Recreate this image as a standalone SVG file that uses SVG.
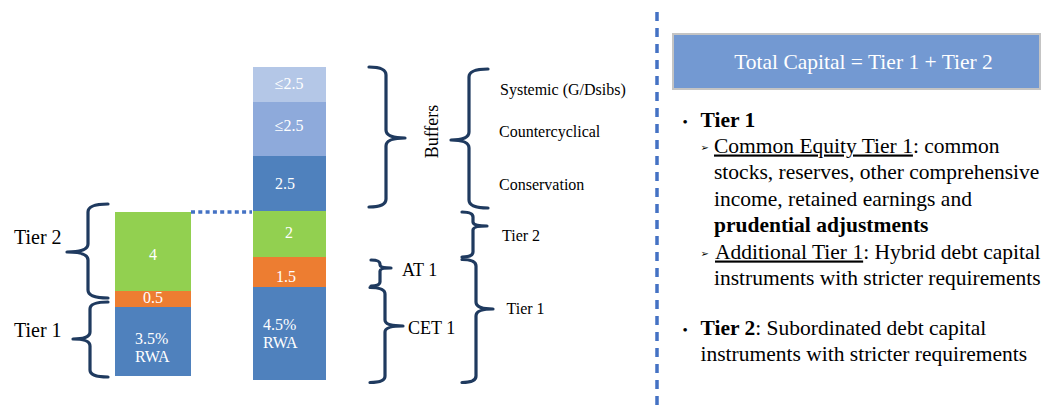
<svg xmlns="http://www.w3.org/2000/svg" width="1041" height="408" viewBox="0 0 1041 408">
<style>
.lbl{font-family:"Liberation Serif",serif;fill:#ffffff;font-size:16px}
.blk{font-family:"Liberation Serif",serif;fill:#000000}
.brace{fill:none;stroke:#1f3a5f;stroke-width:3.2;stroke-linecap:round;stroke-linejoin:round}
.rt{font-family:"Liberation Serif",serif;font-size:21.5px;fill:#000}
.bul{font-family:"Liberation Serif",serif;font-size:15px;fill:#000}
.arr{font-family:"DejaVu Sans",sans-serif;font-size:10px;fill:#000}
</style>
<rect width="1041" height="408" fill="#ffffff"/>

<g id="connectors">
<line x1="191" y1="212" x2="252" y2="212" stroke="#4472c4" stroke-width="3.4" stroke-dasharray="4 3.3"/>
<line x1="657" y1="12" x2="657" y2="408" stroke="#4472c4" stroke-width="3.5" stroke-dasharray="9 7"/>
</g>

<g id="bar-left">
<rect x="115" y="212" width="76" height="79" fill="#92d050"/>
<rect x="115" y="291" width="76" height="16" fill="#ed7d31"/>
<rect x="115" y="307" width="76" height="69" fill="#4f81bd"/>
<text class="lbl" x="153" y="259.5" text-anchor="middle">4</text>
<text class="lbl" x="153" y="303" text-anchor="middle">0.5</text>
<text class="lbl" x="135" y="344">3.5%</text>
<text class="lbl" x="135" y="362">RWA</text>
</g>

<g id="bar-right">
<rect x="253" y="67" width="73" height="35" fill="#b4c7e7"/>
<rect x="253" y="102" width="73" height="54" fill="#8eaadb"/>
<rect x="253" y="156" width="73" height="55" fill="#4f81bd"/>
<rect x="253" y="211" width="73" height="46" fill="#92d050"/>
<rect x="253" y="257" width="73" height="30" fill="#ed7d31"/>
<rect x="253" y="287" width="73" height="93" fill="#4f81bd"/>
<text class="lbl" x="289" y="88.5" text-anchor="middle">≤2.5</text>
<text class="lbl" x="289" y="131" text-anchor="middle">≤2.5</text>
<text class="lbl" x="275" y="188.5">2.5</text>
<text class="lbl" x="289" y="237.5" text-anchor="middle">2</text>
<text class="lbl" x="286" y="282" text-anchor="middle">1.5</text>
<text class="lbl" x="263" y="330">4.5%</text>
<text class="lbl" x="263" y="347.5">RWA</text>
</g>

<g id="brace-left-tier2">
<path class="brace" d="M108,204 Q88,204 88,212 L88,244 Q88,252 67,252 Q88,252 88,260 L88,290 Q88,298 108,298"/>
<text class="blk" x="14" y="244" font-size="20">Tier 2</text>
</g>
<g id="brace-left-tier1">
<path class="brace" d="M108,302 Q90,302 90,309 L90,332 Q90,339 73,339 Q90,339 90,346 L90,370 Q90,377 108,377"/>
<text class="blk" x="14" y="337" font-size="20">Tier 1</text>
</g>

<g id="brace-buffers">
<path class="brace" d="M369,67 Q386,67 386,75 L386,130 Q386,138 405,138 Q386,138 386,146 L386,199 Q386,207 369,207"/>
<text class="blk" font-size="18" text-anchor="middle" transform="translate(438,131.5) rotate(-90)">Buffers</text>
</g>

<g id="brace-buffer-types">
<path class="brace" d="M488,69 Q469,69 469,77 L469,132 Q469,140 451,140 Q469,140 469,148 L469,200 Q469,208 488,208"/>
<text class="blk" x="500" y="95" font-size="16">Systemic (G/Dsibs)</text>
<text class="blk" x="499" y="136.5" font-size="16">Countercyclical</text>
<text class="blk" x="499" y="190" font-size="16">Conservation</text>
</g>

<g id="brace-at1">
<path class="brace" d="M371,260 Q380,260 380,264 L380,265 Q380,268 391,268 Q380,268 380,271 L380,282 Q380,286 371,286"/>
<text class="blk" x="402" y="276" font-size="18">AT 1</text>
</g>
<g id="brace-cet1">
<path class="brace" d="M370,287.5 Q385,287.5 385,294 L385,320 Q385,326 403,326 Q385,326 385,332 L385,376 Q385,382.5 370,382.5"/>
<text class="blk" x="408" y="333.5" font-size="18">CET 1</text>
</g>

<g id="brace-tier2-right">
<path class="brace" d="M462,212 Q473,212 473,217 L473,222 Q473,226 487,226 Q473,226 473,230 L473,252 Q473,257 462,257"/>
<text class="blk" x="502" y="241" font-size="16">Tier 2</text>
</g>
<g id="brace-tier1-right">
<path class="brace" d="M462,259.5 Q476,259.5 476,266 L476,302 Q476,309 493,309 Q476,309 476,316 L476,376 Q476,382.5 462,382.5"/>
<text class="blk" x="506.5" y="313.5" font-size="16">Tier 1</text>
</g>

<g id="title-box">
<rect x="673" y="34" width="367" height="55" fill="#7399d2" stroke="#c4c4c4" stroke-width="2"/>
<text x="863.5" y="68.5" text-anchor="middle" font-family="Liberation Serif, serif" font-size="21.5" fill="#ffffff">Total Capital = Tier 1 + Tier 2</text>
</g>

<g id="definitions">
<text class="bul" x="682.5" y="126.5">•</text>
<text class="rt" x="700.5" y="126.5" font-weight="bold">Tier 1</text>
<text class="arr" x="700.5" y="151">➢</text>
<text class="rt" x="714" y="152.5"><tspan text-decoration="underline">Common Equity Tier 1</tspan>: common</text>
<text class="rt" x="714" y="179">stocks, reserves, other comprehensive</text>
<text class="rt" x="714" y="205.5">income, retained earnings and</text>
<text class="rt" x="714" y="232" font-weight="bold">prudential adjustments</text>
<text class="arr" x="700.5" y="257">➢</text>
<text class="rt" x="715" y="258.5"><tspan text-decoration="underline">Additional Tier 1</tspan>: Hybrid debt capital</text>
<text class="rt" x="714" y="285">instruments with stricter requirements</text>
<text class="bul" x="682.5" y="335">•</text>
<text class="rt" x="700.5" y="335"><tspan font-weight="bold">Tier 2</tspan>: Subordinated debt capital</text>
<text class="rt" x="700.5" y="361">instruments with stricter requirements</text>
</g>
</svg>
